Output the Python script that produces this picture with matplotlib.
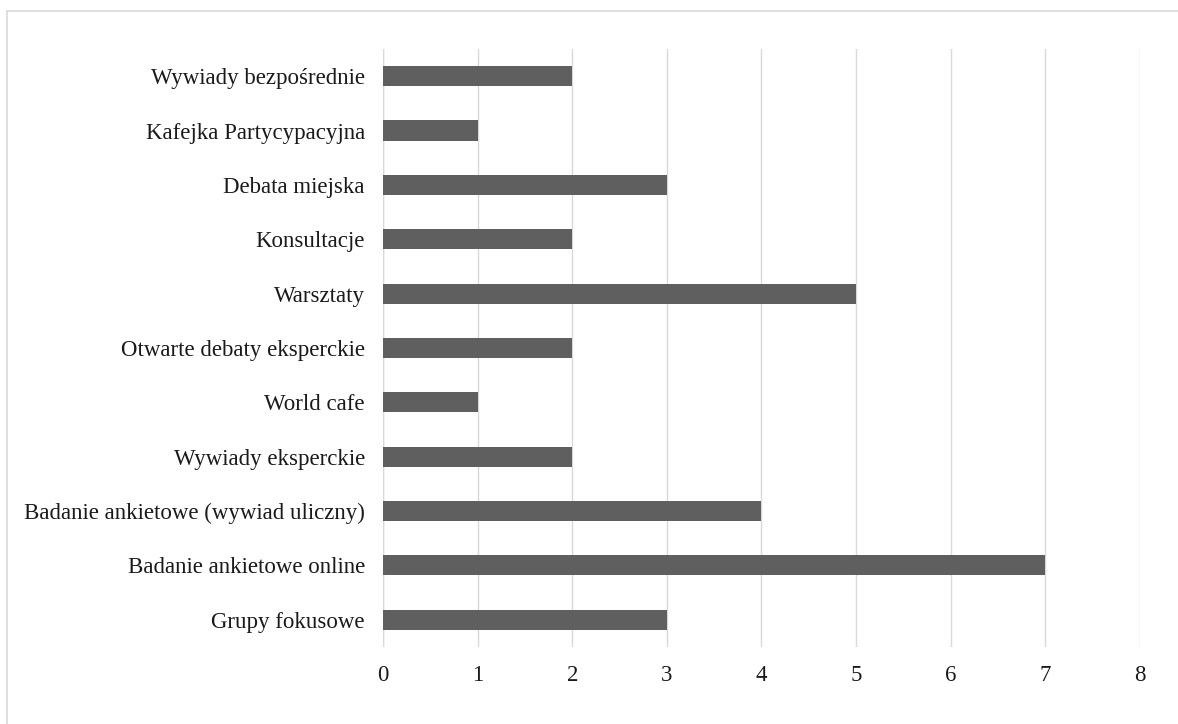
import matplotlib.pyplot as plt
from matplotlib.lines import Line2D

plt.rcParams['font.family'] = ['Liberation Serif', 'DejaVu Serif']

categories = ["Grupy fokusowe", "Badanie ankietowe online",
              "Badanie ankietowe (wywiad uliczny)", "Wywiady eksperckie",
              "World cafe", "Otwarte debaty eksperckie", "Warsztaty",
              "Konsultacje", "Debata miejska", "Kafejka Partycypacyjna",
              "Wywiady bezpośrednie"]
values = [3, 7, 4, 2, 1, 2, 5, 2, 3, 1, 2]
x_ticks = [0, 1, 2, 3, 4, 5, 6, 7, 8]

fig = plt.figure(figsize=(11.78, 7.24), dpi=100)
ax = fig.add_axes([0.3251, 0.1064, 0.6426, 0.8259])

ax.barh(categories, values, height=0.37, color="#5f5f5f", zorder=3)

ax.set_xlim(0, 8)
ax.set_ylim(-0.5, len(categories) - 0.5)
ax.set_xticks(x_ticks)
ax.grid(axis="x", color="#d9d9d9", linewidth=1, zorder=0)
ax.tick_params(axis="both", length=0, labelsize=16.5, colors="#1a1a1a")
ax.tick_params(axis="y", pad=13)
ax.tick_params(axis="x", pad=13)
for s in ax.spines.values():
    s.set_visible(False)
ax.axvline(0, color="#d9d9d9", linewidth=1, zorder=1)

# thin frame round the chart (top and left edges only are visible)
fig.add_artist(Line2D([7 / 1178, 1], [1 - 11 / 724, 1 - 11 / 724],
                      color="#d9d9d9", linewidth=1.2, transform=fig.transFigure))
fig.add_artist(Line2D([7 / 1178, 7 / 1178], [0, 1 - 11 / 724],
                      color="#d9d9d9", linewidth=1.2, transform=fig.transFigure))

fig.savefig("out.png", dpi=100)
